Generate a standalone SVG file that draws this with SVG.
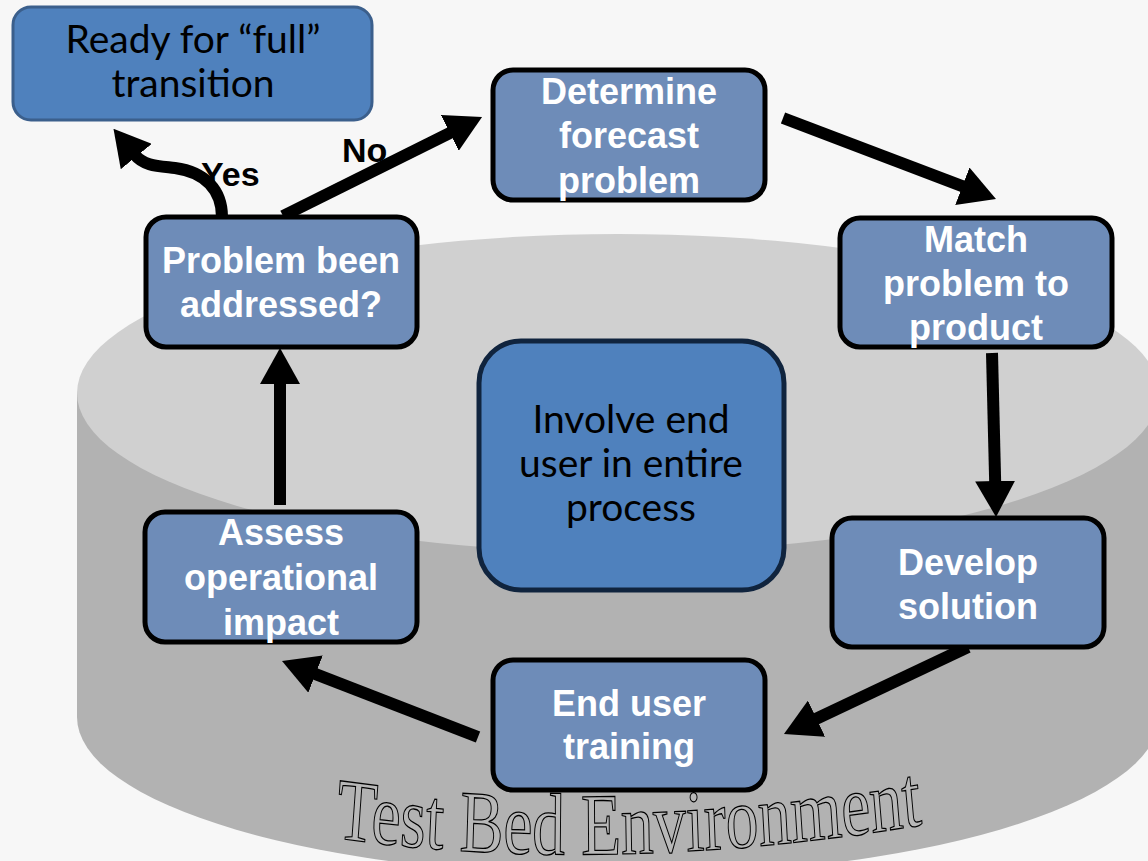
<svg xmlns="http://www.w3.org/2000/svg" width="1148" height="861" viewBox="0 0 1148 861">
<style>
.proc{fill:#6e8cb8;stroke:#000;stroke-width:5}
.lbl{font-family:"Liberation Sans",Arial,sans-serif;font-weight:bold;font-size:36px;fill:#fff;text-anchor:middle}
.cal{font-family:Lato,"Liberation Sans",sans-serif;font-size:39px;fill:#000;text-anchor:middle}
.yn{font-family:"Liberation Sans",Arial,sans-serif;font-weight:bold;font-size:34px;fill:#000}
.conn{stroke:#000;stroke-width:12;fill:none;marker-end:url(#ah)}
</style>
<defs>
<marker id="ah" viewBox="0 0 36 40" refX="2" refY="20" markerWidth="36" markerHeight="40" markerUnits="userSpaceOnUse" orient="auto">
<path d="M0,0 L36,20 L0,40 Z" fill="#000"/>
</marker>
</defs>
<rect x="0" y="0" width="1148" height="861" fill="#f7f7f7"/>
<g id="cylinder">
<path d="M77,393 L77,717 A541,159 0 0 0 1159,717 L1159,393 Z" fill="#b2b2b2"/>
<ellipse cx="618" cy="393" rx="541" ry="159" fill="#d0d0d0"/>
<g transform="translate(335,0) scale(0.745,1)">
<path id="arc" d="M0,838 Q 369,876 779,826" fill="none"/>
<text font-family="'Liberation Serif','Times New Roman',serif" font-size="88" fill="#b8b8b8" stroke="#000" stroke-width="1.3"><textPath href="#arc">Test Bed Environment</textPath></text>
</g>
</g>
<g id="connectors">
<line class="conn" x1="283" y1="216" x2="451.6" y2="132.1"/>
<line class="conn" x1="783" y1="118" x2="964.2" y2="186.9"/>
<line class="conn" x1="992" y1="353" x2="995.2" y2="483"/>
<line class="conn" x1="968" y1="647" x2="814.7" y2="719.5"/>
<line class="conn" x1="478" y1="737" x2="313.7" y2="673.3"/>
<line class="conn" x1="280" y1="505" x2="280" y2="382"/>
<path class="conn" d="M222,217 C222,190 205,172 175,168 C158,166 144,166 135,155"/>
<text class="yn" x="201" y="186">Yes</text>
<text class="yn" x="342" y="162">No</text>
</g>
<g id="ready">
<rect x="13" y="7" width="359" height="113" rx="18" fill="#4f81bd" stroke="#3b5f8c" stroke-width="3"/>
<text class="cal" x="193" y="53">Ready for “full”</text>
<text class="cal" x="193" y="97">transition</text>
</g>
<g id="determine">
<rect class="proc" x="493" y="70" width="272" height="130" rx="20"/>
<text class="lbl" x="629" y="104">Determine</text>
<text class="lbl" x="629" y="148">forecast</text>
<text class="lbl" x="629" y="193">problem</text>
</g>
<g id="match">
<rect class="proc" x="840" y="218" width="272" height="129" rx="20"/>
<text class="lbl" x="976" y="252">Match</text>
<text class="lbl" x="976" y="296">problem to</text>
<text class="lbl" x="976" y="340">product</text>
</g>
<g id="develop">
<rect class="proc" x="832" y="518" width="272" height="129" rx="20"/>
<text class="lbl" x="968" y="575">Develop</text>
<text class="lbl" x="968" y="619">solution</text>
</g>
<g id="training">
<rect class="proc" x="493" y="660" width="272" height="130" rx="20"/>
<text class="lbl" x="629" y="716">End user</text>
<text class="lbl" x="629" y="759">training</text>
</g>
<g id="assess">
<rect class="proc" x="145" y="512" width="272" height="130" rx="20"/>
<text class="lbl" x="281" y="545">Assess</text>
<text class="lbl" x="281" y="590">operational</text>
<text class="lbl" x="281" y="635">impact</text>
</g>
<g id="addressed">
<rect class="proc" x="146" y="217" width="271" height="130" rx="20"/>
<text class="lbl" x="281" y="273">Problem been</text>
<text class="lbl" x="281" y="317">addressed?</text>
</g>
<g id="involve">
<rect x="479" y="341" width="305" height="249" rx="42" fill="#4f81bd" stroke="#10243e" stroke-width="5"/>
<text class="cal" x="631" y="433">Involve end</text>
<text class="cal" x="631" y="477">user in entire</text>
<text class="cal" x="631" y="521">process</text>
</g>
</svg>
